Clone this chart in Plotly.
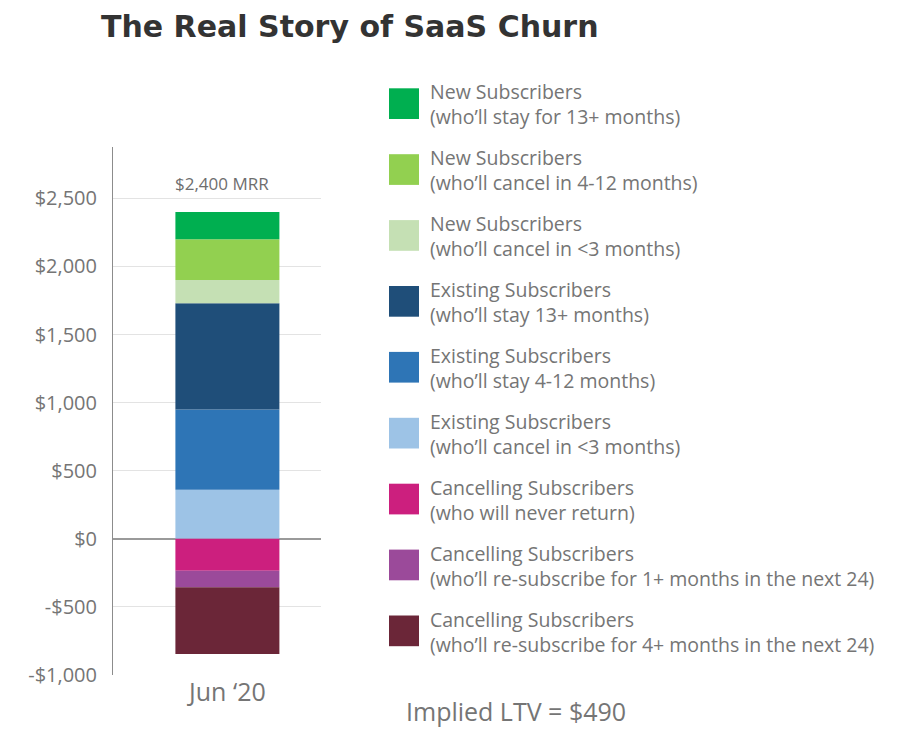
import plotly.graph_objects as go

# ---- data ----
category = ["Jun \u201820"]
series_titles = ["New Subscribers", "New Subscribers", "New Subscribers",
                 "Existing Subscribers", "Existing Subscribers", "Existing Subscribers",
                 "Cancelling Subscribers", "Cancelling Subscribers", "Cancelling Subscribers"]
series_details = ["(who\u2019ll stay for 13+ months)",
                  "(who\u2019ll cancel in 4-12 months)",
                  "(who\u2019ll cancel in <3 months)",
                  "(who\u2019ll stay 13+ months)",
                  "(who\u2019ll stay 4-12 months)",
                  "(who\u2019ll cancel in <3 months)",
                  "(who will never return)",
                  "(who\u2019ll re-subscribe for 1+ months in the next 24)",
                  "(who\u2019ll re-subscribe for 4+ months in the next 24)"]
series_values = [200, 300, 170, 780, 590, 360, -235, -120, -490]
series_colors = ["#00AF50", "#92D050", "#C5E0B4", "#1F4E79", "#2E75B6",
                 "#9DC3E6", "#CC1F7E", "#9B4A9A", "#6B2638"]
stack_order = [5, 4, 3, 2, 1, 0, 6, 7, 8]  # bottom-up for positives, top-down for negatives
tick_values = [-1000, -500, 0, 500, 1000, 1500, 2000, 2500]
tick_labels = ["-$1,000", "-$500", "$0", "$500", "$1,000", "$1,500", "$2,000", "$2,500"]
mrr_label = "$2,400 MRR"
ltv_label = "Implied LTV = $490"
title_text = "The Real Story of SaaS Churn"

FONT = "Open Sans"
GREY = "#757575"

# page offset (body margin) and plot box in screen pixels
OFF = 8
W, H = 900 - OFF, 733 - OFF
PX0, PX1, PY0, PY1 = 113, 321, 147, 675
L, R, T, B = PX0 - OFF, W - (PX1 - OFF), PY0 - OFF, H - (PY1 - OFF)


def px(sx):
    return (sx - PX0) / (PX1 - PX0)


def py(sy):
    return (PY1 - sy) / (PY1 - PY0)


fig = go.Figure()
for i in stack_order:
    fig.add_trace(go.Bar(
        x=category, y=[series_values[i]],
        name=series_titles[i] + " " + series_details[i],
        marker=dict(color=series_colors[i], line=dict(width=0)),
        width=0.5, showlegend=False,
    ))

total_pos = sum(v for v in series_values if v > 0)

fig.update_layout(
    width=W, height=H,
    margin=dict(l=L, r=R, t=T, b=B),
    barmode="relative",
    plot_bgcolor="white", paper_bgcolor="white",
    font=dict(family=FONT, color=GREY),
    title=dict(text="<b>" + title_text + "</b>", x=(101 - OFF) / W, xanchor="left",
               y=1 - (26 - OFF) / H, yanchor="middle",
               font=dict(family="DejaVu Sans", size=30, color="#333333")),
    xaxis=dict(type="category", range=[-0.55, 0.45], showgrid=False,
               showline=False, zeroline=False,
               tickfont=dict(size=25, color=GREY), ticks=""),
    yaxis=dict(range=[-1000, 2877], tickvals=tick_values, ticktext=tick_labels,
               showgrid=True, gridcolor="#E3E3E3", gridwidth=1,
               showline=True, linecolor="#8C8C8C", linewidth=1,
               zeroline=True, zerolinecolor="#9A9A9A", zerolinewidth=1.5,
               tickfont=dict(size=20, color=GREY), ticks="outside",
               ticklen=11, tickcolor="rgba(0,0,0,0)"),
)

fig.add_annotation(x=category[0], y=total_pos, xref="x", yref="y",
                   text=mrr_label, showarrow=False, yanchor="bottom", yshift=15,
                   xshift=-5, font=dict(size=17, color="#6E6E6E"))

# Legend (manual, large square swatches)
sq_x0, sq_x1 = 389, 419
first_top, step, sq = 88.3, 65.9, 30.7
for k in range(len(series_titles)):
    top = first_top + k * step
    fig.add_shape(type="rect", xref="paper", yref="paper",
                  x0=px(sq_x0), x1=px(sq_x1),
                  y0=py(top + sq), y1=py(top),
                  fillcolor=series_colors[k], line=dict(width=0))
    fig.add_annotation(xref="paper", yref="paper",
                       x=px(428), y=py(top + 16),
                       text=series_titles[k] + "<br>" + series_details[k],
                       showarrow=False, xanchor="left", yanchor="middle", align="left",
                       font=dict(size=19.5, color=GREY))

fig.add_annotation(xref="paper", yref="paper",
                   x=px(404), y=py(711),
                   text=ltv_label, showarrow=False, xanchor="left", yanchor="middle",
                   font=dict(size=25, color=GREY))

fig.write_html("out.html")
